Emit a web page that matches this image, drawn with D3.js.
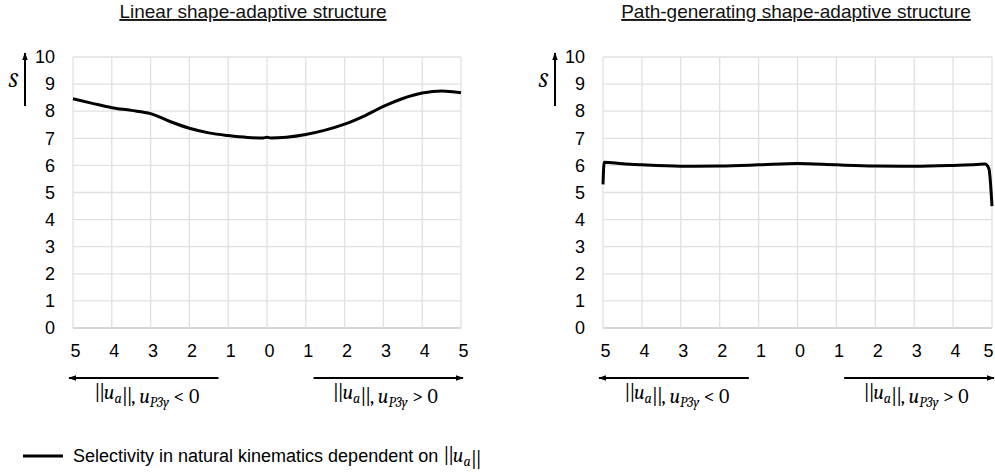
<!DOCTYPE html>
<html>
<head>
<meta charset="utf-8">
<script src="https://cdn.jsdelivr.net/npm/d3@7"></script>
<style>
  html, body { margin: 0; padding: 0; background: #fff; }
  svg { display: block; }
</style>
</head>
<body>
<svg id="chart" width="995" height="476"></svg>
<script>
// Axis values and labels
const xTicks = [-5, -4, -3, -2, -1, 0, 1, 2, 3, 4, 5];
const xTickLabels = ["5", "4", "3", "2", "1", "0", "1", "2", "3", "4", "5"];
const yTicks = [0, 1, 2, 3, 4, 5, 6, 7, 8, 9, 10];

// Linear shape-adaptive structure: signed ||u_a|| (negative side = u_P3y < 0)
const linearU = [-5, -4.5, -4, -3.5, -3, -2.5, -2, -1.5, -1, -0.5, -0.1, 0, 0.1, 0.5, 1, 1.5, 2, 2.5, 3, 3.5, 4, 4.5, 5];
const linearS = [8.46, 8.29, 8.13, 8.03, 7.91, 7.62, 7.37, 7.2, 7.1, 7.03, 7.01, 7.04, 7.01, 7.04, 7.14, 7.3, 7.52, 7.82, 8.18, 8.47, 8.67, 8.75, 8.68];

// Path-generating shape-adaptive structure
const pathU = [-5, -4.97, -4.5, -4, -3, -2, -1, 0, 1, 2, 3, 4, 4.6, 4.82, 4.92, 5];
const pathS = [5.3, 6.12, 6.06, 6.02, 5.97, 5.98, 6.02, 6.07, 6.02, 5.98, 5.97, 6.0, 6.03, 6.05, 5.88, 4.5];

const panels = [
  { title: "Linear shape-adaptive structure", titleX: 253, x0: 73, x1: 461, u: linearU, s: linearS },
  { title: "Path-generating shape-adaptive structure", titleX: 796, x0: 603, x1: 992, u: pathU, s: pathS }
];

const svg = d3.select("#chart");
const plotTop = 57, plotBottom = 328;
const sans = "Arial, 'Liberation Sans', Helvetica, sans-serif";
const serif = "'Cambria Math', Cambria, 'Liberation Serif', serif";

svg.append("defs").append("marker")
  .attr("id", "head")
  .attr("viewBox", "0 0 10 10")
  .attr("refX", 9).attr("refY", 5)
  .attr("markerWidth", 4).attr("markerHeight", 4)
  .attr("markerUnits", "strokeWidth")
  .attr("orient", "auto-start-reverse")
  .append("path").attr("d", "M0,1.5 L10,5 L0,8.5 Z").attr("fill", "#000");

// norm bars drawn as two thin vertical strokes
function bars(t) {
  t.append("tspan").attr("font-style", "normal").attr("letter-spacing", -1.5).text("||");
  t.append("tspan").attr("dx", 1.5).text("");
}

// ||u_a||, u_P3y <op> 0 as math-styled text
function mathLabel(g, x, y, op) {
  const t = g.append("text")
    .attr("x", x).attr("y", y)
    .attr("text-anchor", "middle")
    .attr("font-family", serif)
    .attr("font-size", 20)
    .attr("fill", "#000");
  bars(t);
  t.append("tspan").attr("font-style", "italic").text("u");
  t.append("tspan").attr("font-style", "italic").attr("font-size", 14).attr("dy", 4).text("a");
  t.append("tspan").attr("dy", -4).text("");
  bars(t);
  t.append("tspan").text(", ");
  t.append("tspan").attr("font-style", "italic").text("u");
  t.append("tspan").attr("font-style", "italic").attr("font-size", 14).attr("dy", 4).text("P3y");
  t.append("tspan").attr("dy", -4).text(" " + op + " 0");
  return t;
}

panels.forEach((p, pi) => {
  const g = svg.append("g");
  const x = d3.scaleLinear().domain([-5, 5]).range([p.x0, p.x1]);
  const y = d3.scaleLinear().domain([0, 10]).range([plotBottom, plotTop]);

  // grid
  g.append("g").selectAll("line").data(yTicks).join("line")
    .attr("x1", p.x0).attr("x2", p.x1)
    .attr("y1", d => y(d)).attr("y2", d => y(d))
    .attr("stroke", d => d === 0 ? "#c8c8c8" : "#e0e0e0").attr("stroke-width", 1.3);
  g.append("g").selectAll("line").data(xTicks).join("line")
    .attr("x1", d => x(d)).attr("x2", d => x(d))
    .attr("y1", plotTop).attr("y2", plotBottom)
    .attr("stroke", "#e0e0e0").attr("stroke-width", 1.3);

  // y axis labels
  const yAxis = d3.axisLeft(y).tickValues(yTicks).tickSize(0).tickPadding(0);
  const ya = g.append("g").attr("transform", `translate(${p.x0 - 18},0)`).call(yAxis);
  ya.select(".domain").remove();
  ya.selectAll("text").attr("font-family", sans).attr("font-size", 18).attr("fill", "#000");

  // x axis labels
  const xAxis = d3.axisBottom(x).tickValues(xTicks).tickFormat((d, i) => xTickLabels[i]).tickSize(0).tickPadding(0);
  const xa = g.append("g").attr("transform", `translate(2,${plotBottom + 16})`).call(xAxis);
  xa.select(".domain").remove();
  xa.selectAll("text").attr("font-family", sans).attr("font-size", 18).attr("fill", "#000");
  if (pi === 1) {
    // keep the last label inside the page edge
    xa.selectAll(".tick").filter(d => d === 5).select("text").attr("text-anchor", "end").attr("dx", -1);
  }

  // title
  g.append("text")
    .attr("x", p.titleX).attr("y", 18)
    .attr("text-anchor", "middle")
    .attr("font-family", sans).attr("font-size", 19)
    .attr("text-decoration", "underline")
    .attr("fill", "#111")
    .text(p.title);

  // y axis quantity S with arrow
  const ax = p.x0 - 48;
  g.append("line").attr("x1", ax).attr("x2", ax).attr("y1", 106).attr("y2", 53)
    .attr("stroke", "#000").attr("stroke-width", 2).attr("marker-end", "url(#head)");
  g.append("text").attr("x", ax - 12).attr("y", 87)
    .attr("text-anchor", "middle")
    .attr("font-family", serif).attr("font-style", "italic").attr("font-size", 21)
    .text("S");

  // direction arrows under the x axis
  const ay = 378;
  g.append("line").attr("x1", x(-1.25)).attr("x2", x(-5) - 4).attr("y1", ay).attr("y2", ay)
    .attr("stroke", "#000").attr("stroke-width", 2).attr("marker-end", "url(#head)");
  g.append("line").attr("x1", x(1.2)).attr("x2", x(5) + 2).attr("y1", ay).attr("y2", ay)
    .attr("stroke", "#000").attr("stroke-width", 2).attr("marker-end", "url(#head)");
  mathLabel(g, x(-3.1), 399, "<");
  mathLabel(g, x(3.05), 399, ">");

  // curve
  const pts = p.u.map((u, i) => [u, p.s[i]]);
  g.append("path").datum(pts)
    .attr("fill", "none").attr("stroke", "#000").attr("stroke-width", 3)
    .attr("stroke-linejoin", "round")
    .attr("d", d3.line().x(d => x(d[0])).y(d => y(d[1])).curve(d3.curveMonotoneX));
});

// legend
const lg = svg.append("g");
lg.append("line").attr("x1", 23).attr("x2", 63).attr("y1", 456).attr("y2", 456)
  .attr("stroke", "#000").attr("stroke-width", 3);
const lt = lg.append("text").attr("x", 73).attr("y", 462)
  .attr("font-family", sans).attr("font-size", 18).attr("fill", "#000");
lt.append("tspan").text("Selectivity in natural kinematics dependent on ");
const lm = lt.append("tspan").attr("font-family", serif).attr("font-size", 20);
bars(lm);
lm.append("tspan").attr("font-style", "italic").text("u");
lm.append("tspan").attr("font-style", "italic").attr("font-size", 14).attr("dy", 4).text("a");
lm.append("tspan").attr("dy", -4).text("");
bars(lm);
</script>
</body>
</html>
